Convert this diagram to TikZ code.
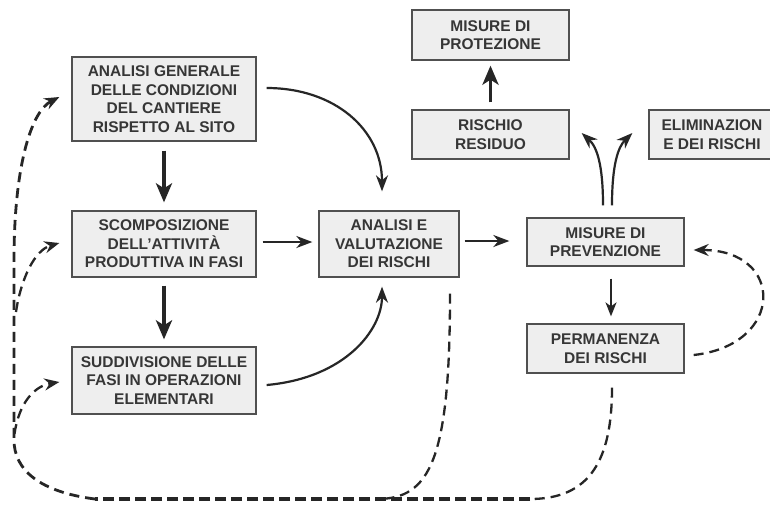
\documentclass[tikz,border=0pt]{standalone}
\usepackage{fontspec}
\setmainfont{Liberation Sans}
\usetikzlibrary{arrows.meta}
\definecolor{boxfill}{HTML}{EEEEEE}
\definecolor{boxline}{HTML}{505050}
\definecolor{ink}{HTML}{262626}
\definecolor{txt}{HTML}{363636}

\begin{document}
\begin{tikzpicture}[x=1pt,y=-1pt,
  box/.style={draw=boxline, line width=1.3pt, fill=boxfill, text=txt, align=center,
    inner sep=0pt, font=\bfseries\fontsize{15.5}{18.5}\selectfont},
  heavy/.style={draw=ink, line width=3.8pt, -{Stealth[length=19pt,width=16pt,inset=5pt]}},
  medium/.style={draw=ink, line width=2.2pt, -{Stealth[length=16pt,width=12pt,inset=5pt]}},
  slim/.style={draw=ink, line width=1.6pt, -{Stealth[length=14pt,width=11pt,inset=4pt]}},
  loopline/.style={draw=ink, line width=2.3pt, dash pattern=on 10pt off 6pt},
  looparrow/.style={loopline, -{Stealth[length=15pt,width=12pt,inset=5pt]}},
  trunk/.style={draw=ink, line width=4.2pt, dash pattern=on 11pt off 5pt},
]
\useasboundingbox (0,0) rectangle (770,504);
\fill[white] (0,0) rectangle (770,504);

% boxes
\node[box, minimum width=184pt, minimum height=84pt] (A) at (164,99)
  {ANALISI GENERALE\\DELLE CONDIZIONI\\DEL CANTIERE\\RISPETTO AL SITO};
\node[box, minimum width=184pt, minimum height=66pt] (B) at (164,244)
  {SCOMPOSIZIONE\\DELL'ATTIVITÀ\\PRODUTTIVA IN FASI};
\node[box, minimum width=184pt, minimum height=67pt] (C) at (164,380.5)
  {SUDDIVISIONE DELLE\\FASI IN OPERAZIONI\\ELEMENTARI};
\node[box, minimum width=140pt, minimum height=66pt] (D) at (389,244)
  {ANALISI E\\VALUTAZIONE\\DEI RISCHI};
\node[box, minimum width=157pt, minimum height=48pt] (E) at (605.5,242)
  {MISURE DI\\PREVENZIONE};
\node[box, minimum width=157pt, minimum height=49pt] (F) at (605.5,348.5)
  {PERMANENZA\\DEI RISCHI};
\node[box, minimum width=157pt, minimum height=50pt] (G) at (490.5,35)
  {MISURE DI\\PROTEZIONE};
\node[box, minimum width=157pt, minimum height=49pt] (H) at (490.5,134.5)
  {RISCHIO\\RESIDUO};
\node[box, minimum width=126pt, minimum height=49pt] (I) at (712,134.5)
  {ELIMINAZION\\E DEI RISCHI};

% main flow
\draw[heavy] ([yshift=-9pt]A.south) -- ([yshift=8pt]B.north);
\draw[heavy] ([yshift=-8pt]B.south) -- ([yshift=7pt]C.north);
\draw[heavy] ([yshift=7pt]H.north) -- ([yshift=-5pt]G.south);
\draw[medium] ([xshift=6pt,yshift=2pt]B.east) -- ([xshift=-6pt,yshift=2pt]D.west);
\draw[medium] ([xshift=5pt,yshift=3pt]D.east) -- ([xshift=-17pt,yshift=1pt]E.west);
\draw[slim] ([xshift=5.5pt,yshift=-12pt]E.south) -- ([xshift=5.5pt,yshift=7pt]F.north);

% curved inputs to the risk analysis
\draw[medium] ([xshift=10pt,yshift=11pt]A.east)
  .. controls (335,88) and (382,130) .. ([xshift=-7pt,yshift=19pt]D.north);
\draw[medium] ([xshift=10pt,yshift=-4.5pt]C.east)
  .. controls (345,378) and (382,330) .. ([xshift=-7pt,yshift=-9pt]D.south);

% fork above the prevention measures
\draw[medium] ([xshift=-2.5pt,yshift=12pt]E.north)
  .. controls (603,165) and (597,147) .. ([xshift=12pt,yshift=1.5pt]H.east);
\draw[medium] ([xshift=6.5pt,yshift=12pt]E.north)
  .. controls (612,165) and (618,147) .. ([xshift=-16pt,yshift=1.5pt]I.west);

% feedback from remaining risks
\draw[looparrow] ([xshift=9pt,yshift=-6.5pt]F.east)
  .. controls (785,345) and (785,250) .. ([xshift=9pt,yshift=-8pt]E.east);

% return loop
\coordinate (j1) at (377,499);
\coordinate (j2) at (530,499);
\coordinate (corner) at (95,499);
\coordinate (bB) at (16,312);
\coordinate (bC) at (14.5,434);
\draw[loopline] ([xshift=61pt,yshift=-16pt]D.south)
  .. controls (450,460) and (430,499) .. (j1);
\draw[loopline] ([xshift=6.5pt,yshift=-14pt]F.south)
  .. controls (612,460) and (590,499) .. (j2);
\draw[trunk] (j2) -- (corner);
\draw[looparrow, line width=2.8pt] (corner) .. controls (40,492) and (14,470) .. (14,440)
  -- (14,260) .. controls (14,170) and (30,112) .. ([xshift=-12pt,yshift=2pt]A.west);
\draw[looparrow] (bB) .. controls (21,278) and (35,250) .. ([xshift=-12pt,yshift=1pt]B.west);
\draw[looparrow] (bC) .. controls (19,402) and (35,386) .. ([xshift=-12pt,yshift=-1.5pt]C.west);
\end{tikzpicture}
\end{document}
